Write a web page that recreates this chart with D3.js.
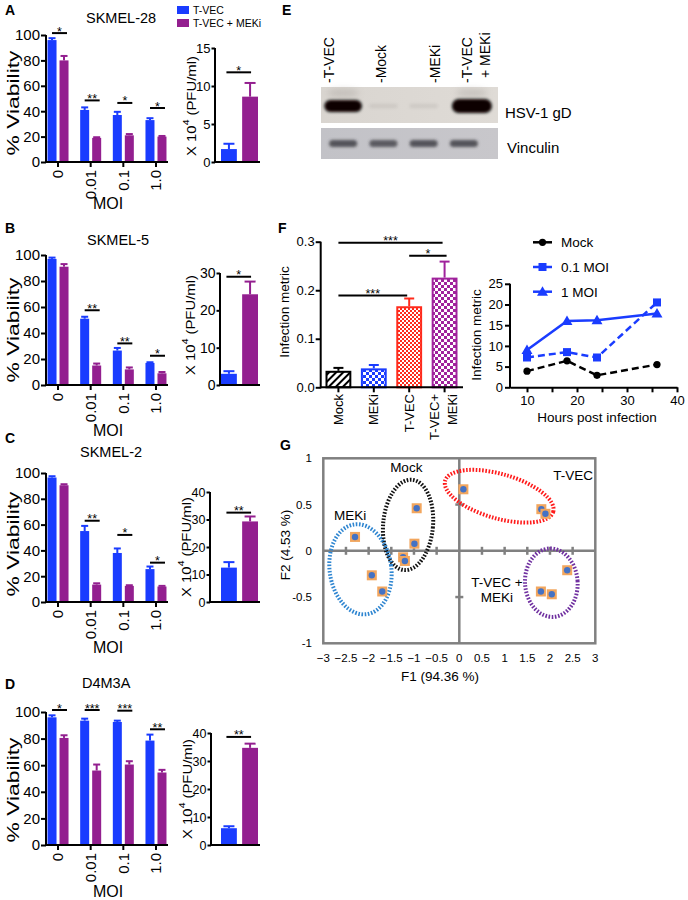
<!DOCTYPE html>
<html><head><meta charset="utf-8">
<script src="https://cdn.jsdelivr.net/npm/d3@7"></script>
<style>
html,body{margin:0;padding:0;background:#fff;}
svg{display:block;}
</style></head><body>
<svg id="fig" width="688" height="900"></svg>
<script>
// ================= DATA =================
const moiLevels = ["0", "0.01", "0.1", "1.0"];
const seriesNames = ["T-VEC", "T-VEC + MEKi"];

// Panel A  SKMEL-28
const viabA_tvec = [96, 41, 37, 33];
const viabA_tvecErr = [1.5, 2, 2.5, 1.5];
const viabA_combo = [80, 19, 21, 20];
const viabA_comboErr = [3.5, 0.5, 1, 0.5];
const sigA = ["*", "**", "*", "*"];
const sigLevelA = [101.5, 48.5, 46.5, 42.5];
const pfuA = [1.7, 8.6];
const pfuAErr = [0.7, 1.8];
const pfuSigA = "*", pfuSigLevelA = 11.8;

// Panel B  SKMEL-5
const viabB_tvec = [97, 51, 26.5, 17];
const viabB_tvecErr = [1, 1.5, 2, 0.5];
const viabB_combo = [91, 15, 12, 9];
const viabB_comboErr = [2, 1.5, 1.5, 1];
const sigB = ["", "**", "**", "*"];
const sigLevelB = [0, 57.5, 32, 22.5];
const pfuB = [3.0, 24.3];
const pfuBErr = [0.7, 3.4];
const pfuSigB = "*", pfuSigLevelB = 29;

// Panel C  SKMEL-2
const viabC_tvec = [96.5, 55, 38, 25.5];
const viabC_tvecErr = [1, 4, 3.5, 2];
const viabC_combo = [90.5, 13.5, 12.5, 12];
const viabC_comboErr = [0.8, 1, 0.5, 0.5];
const sigC = ["", "**", "*", "*"];
const sigLevelC = [0, 63, 52, 30.5];
const pfuC = [12.5, 29.3];
const pfuCErr = [2, 1.8];
const pfuSigC = "**", pfuSigLevelC = 32.5;

// Panel D  D4M3A
const viabD_tvec = [96, 93.5, 92.5, 78.5];
const viabD_tvecErr = [1.5, 1.5, 1, 4.5];
const viabD_combo = [80.5, 56, 60.5, 54.5];
const viabD_comboErr = [2, 4.5, 2.5, 2];
const sigD = ["*", "***", "***", "**"];
const sigLevelD = [101.5, 101.5, 101, 87];
const pfuD = [6, 34.7];
const pfuDErr = [0.7, 1.5];
const pfuSigD = "**", pfuSigLevelD = 38.6;

// Panel E  western blot
const blotLanes = ["-T-VEC", "-Mock", "-MEKi", "-T-VEC"];
const blotLanes2 = ["", "", "", "+ MEKi"];
const gdSignal = [0.8, 0.05, 0.05, 1.0];
const vinculinSignal = [0.75, 0.7, 0.75, 0.75];

// Panel F  infection metric bars
const infGroups = ["Mock", "MEKi", "T-VEC", "T-VEC+MEKi"];
const infMean = [0.034, 0.039, 0.167, 0.226];
const infErr = [0.006, 0.007, 0.016, 0.033];
const infSigFrom = ["Mock", "T-VEC", "Mock"];
const infSigTo = ["T-VEC+MEKi", "T-VEC+MEKi", "T-VEC"];
const infSigLabel = ["***", "*", "***"];
const infSigLevel = [0.298, 0.271, 0.189];

// Panel F  kinetics
const hours = [10, 18, 24, 36];
const kinSeries = ["Mock", "0.1 MOI", "1 MOI"];
const kinMock = [3.9, 6.4, 2.9, 5.5];
const kinMoi01 = [7.2, 8.5, 7.2, 20.5];
const kinMoi1 = [9.0, 16.0, 16.2, 17.8];

// Panel G  PCA
const pcaF1 = [0.09, 1.81, 1.9, -0.94, -0.99, -1.24, -1.2, -2.3, -1.93, -1.70, 2.38, 1.8, 2.04];
const pcaF2 = [0.665, 0.45, 0.40, 0.46, 0.077, -0.07, -0.11, 0.15, -0.265, -0.44, -0.21, -0.44, -0.47];
const clusterNames = ["Mock", "MEKi", "T-VEC", "T-VEC +|MEKi"];
const clusterCx = [-1.13, -2.18, 0.88, 2.03];
const clusterCy = [0.28, -0.2, 0.59, -0.345];
const clusterRx = [0.55, 0.68, 1.24, 0.58];
const clusterRy = [0.49, 0.49, 0.24, 0.37];
const clusterAngle = [5, -8, 16, -4];
const clusterLabelX = [-1.17, -2.41, 2.51, 0.83];
const clusterLabelY = [0.85, 0.33, 0.77, -0.39];

// ================= DRAWING =================
const FONT = '"Liberation Sans", Arial, Helvetica, sans-serif';
const BLUE = "#1a3cff", PURPLE = "#931f8f";
const svg = d3.select("#fig").attr("font-family", FONT);
const defs = svg.append("defs");

function letter(ch, x, y) {
  svg.append("text").attr("x", x).attr("y", y).attr("font-size", 14)
    .attr("font-weight", "bold").attr("fill", "#000").text(ch);
}
function styleAxis(sel, size) {
  sel.attr("font-family", FONT);
  sel.select(".domain").attr("stroke", "#000").attr("stroke-width", 2);
  sel.selectAll(".tick line").attr("stroke", "#000").attr("stroke-width", 2);
  sel.selectAll(".tick text").attr("font-size", size).attr("fill", "#000");
}
function rotLabel(parent, build, cx, cy, size, targetLen) {
  const t = parent.append("text").attr("font-size", size).attr("text-anchor", "middle")
    .attr("dominant-baseline", "central").attr("fill", "#000");
  build(t);
  const w = t.node().getBBox().width;
  const s = targetLen ? targetLen / w : 1;
  t.attr("transform", `translate(${cx},${cy}) rotate(-90) scale(${s},1)`);
  return t;
}
function errBar(g, x, y0, y1, cap, color) {
  g.append("line").attr("x1", x).attr("x2", x).attr("y1", y0).attr("y2", y1)
    .attr("stroke", color).attr("stroke-width", 2);
  g.append("line").attr("x1", x - cap / 2).attr("x2", x + cap / 2).attr("y1", y1).attr("y2", y1)
    .attr("stroke", color).attr("stroke-width", 2);
}
function sigMark(g, x1, x2, y, label, size) {
  g.append("line").attr("x1", x1).attr("x2", x2).attr("y1", y).attr("y2", y)
    .attr("stroke", "#000").attr("stroke-width", 2);
  g.append("text").attr("x", (x1 + x2) / 2).attr("y", y + 2.5).attr("text-anchor", "middle")
    .attr("font-size", size).attr("fill", "#000").text(label);
}

const panels = [
  {letter: "A", letterY: 15, title: "SKMEL-28", titleX: 86, titleY: 23, top: 35, base: 162,
   smallMax: 15, smallTicks: [0, 5, 10, 15], smallTop: 48, smallAxisX: 215, smallFont: 13, pfuX: 191, viabY: 103, pfuY: 106, moiY: 209,
   tvec: viabA_tvec, tvecErr: viabA_tvecErr, combo: viabA_combo, comboErr: viabA_comboErr,
   sig: sigA, sigLevel: sigLevelA, pfu: pfuA, pfuErr: pfuAErr, pfuSig: pfuSigA, pfuSigLevel: pfuSigLevelA},
  {letter: "B", letterY: 233, title: "SKMEL-5", titleX: 87, titleY: 245, top: 255, base: 385,
   smallMax: 30, smallTicks: [0, 10, 20, 30], smallTop: 273, smallAxisX: 220, smallFont: 14, pfuX: 190, viabY: 330, pfuY: 325, moiY: 436,
   tvec: viabB_tvec, tvecErr: viabB_tvecErr, combo: viabB_combo, comboErr: viabB_comboErr,
   sig: sigB, sigLevel: sigLevelB, pfu: pfuB, pfuErr: pfuBErr, pfuSig: pfuSigB, pfuSigLevel: pfuSigLevelB},
  {letter: "C", letterY: 443, title: "SKMEL-2", titleX: 80, titleY: 457, top: 473, base: 602,
   smallMax: 40, smallTicks: [0, 10, 20, 30, 40], smallTop: 492, smallAxisX: 210, smallFont: 12.5, pfuX: 186, viabY: 544, pfuY: 547, moiY: 653,
   tvec: viabC_tvec, tvecErr: viabC_tvecErr, combo: viabC_combo, comboErr: viabC_comboErr,
   sig: sigC, sigLevel: sigLevelC, pfu: pfuC, pfuErr: pfuCErr, pfuSig: pfuSigC, pfuSigLevel: pfuSigLevelC},
  {letter: "D", letterY: 689, title: "D4M3A", titleX: 82, titleY: 688, top: 712, base: 845,
   smallMax: 40, smallTicks: [0, 10, 20, 30, 40], smallTop: 733, smallAxisX: 211, smallFont: 12.5, pfuX: 187, viabY: 790, pfuY: 789, moiY: 897,
   tvec: viabD_tvec, tvecErr: viabD_tvecErr, combo: viabD_combo, comboErr: viabD_comboErr,
   sig: sigD, sigLevel: sigLevelD, pfu: pfuD, pfuErr: pfuDErr, pfuSig: pfuSigD, pfuSigLevel: pfuSigLevelD}
];

const colorOf = d3.scaleOrdinal().domain(seriesNames).range([BLUE, PURPLE]);

panels.forEach(p => {
  const g = svg.append("g");
  letter(p.letter, 5, p.letterY);
  g.append("text").attr("x", p.titleX).attr("y", p.titleY).attr("font-size", 14.5).attr("fill", "#000").text(p.title);

  // main viability chart
  const y = d3.scaleLinear().domain([0, 100]).range([p.base, p.top]);
  const x = d3.scaleBand().domain(moiLevels).range([41.7, 172.3]);
  const xs = d3.scaleBand().domain(seriesNames).range([-10.5, 10.5]).paddingInner(0.25);
  const rows = moiLevels.map((m, i) => ({m, i, vals: [
    {s: seriesNames[0], v: p.tvec[i], e: p.tvecErr[i]},
    {s: seriesNames[1], v: p.combo[i], e: p.comboErr[i]}]}));
  rows.forEach(r => {
    const cx = x(r.m) + x.bandwidth() / 2;
    r.vals.forEach(d => {
      g.append("rect").attr("x", cx + xs(d.s)).attr("width", xs.bandwidth())
        .attr("y", y(d.v)).attr("height", y(0) - y(d.v)).attr("fill", colorOf(d.s));
      errBar(g, cx + xs(d.s) + xs.bandwidth() / 2, y(d.v), y(d.v + d.e), 7, colorOf(d.s));
    });
    if (p.sig[r.i]) sigMark(g, cx - 6, cx + 9, y(p.sigLevel[r.i]), p.sig[r.i], 12.5);
  });
  const ya = g.append("g").attr("transform", "translate(46,0)")
    .call(d3.axisLeft(y).tickValues([0, 20, 40, 60, 80, 100]).tickSize(5).tickPadding(1).tickSizeOuter(0));
  styleAxis(ya, 15);
  ya.select(".domain").attr("d", `M0,${p.base + 1}V${p.top}`);
  const xa = g.append("g").attr("transform", `translate(0,${p.base})`)
    .call(d3.axisBottom(x).tickSize(5).tickSizeOuter(0));
  styleAxis(xa, 15);
  xa.select(".domain").attr("d", "M45,0H168");
  xa.selectAll(".tick text").attr("transform", "rotate(-90)").attr("x", -8).attr("y", 0)
    .attr("dy", "0.35em").attr("text-anchor", "end");
  g.append("text").attr("x", 108).attr("y", p.moiY).attr("text-anchor", "middle")
    .attr("font-size", 16).attr("fill", "#000").text("MOI");
  rotLabel(g, t => t.text("% Viability"), 13, p.viabY, 16, 105);

  // small PFU chart
  const ys = d3.scaleLinear().domain([0, p.smallMax]).range([p.base, p.smallTop]);
  const xb = d3.scaleBand().domain(seriesNames).range([221, 258]).paddingInner(0.25);
  seriesNames.forEach((s, i) => {
    g.append("rect").attr("x", xb(s)).attr("width", xb.bandwidth()).attr("y", ys(p.pfu[i]))
      .attr("height", ys(0) - ys(p.pfu[i])).attr("fill", colorOf(s));
    errBar(g, xb(s) + xb.bandwidth() / 2, ys(p.pfu[i]), ys(p.pfu[i] + p.pfuErr[i]), 11, colorOf(s));
  });
  sigMark(g, xb(seriesNames[0]) + xb.bandwidth() / 2 - 2.5, xb(seriesNames[1]) + xb.bandwidth() / 2 + 1,
    ys(p.pfuSigLevel), p.pfuSig, 12.5);
  const ysa = g.append("g").attr("transform", `translate(${p.smallAxisX},0)`)
    .call(d3.axisLeft(ys).tickValues(p.smallTicks).tickSize(3.5).tickPadding(1).tickSizeOuter(0));
  styleAxis(ysa, p.smallFont);
  ysa.select(".domain").attr("d", `M0,${p.base + 1}V${p.smallTop}`);
  g.append("line").attr("x1", p.smallAxisX - 1).attr("x2", 260).attr("y1", p.base).attr("y2", p.base)
    .attr("stroke", "#000").attr("stroke-width", 2);
  rotLabel(g, t => {
    t.append("tspan").text("X 10");
    t.append("tspan").attr("font-size", 9).attr("dy", -6).text("4");
    t.append("tspan").attr("dy", 6).text(" (PFU/ml)");
  }, p.pfuX, p.pfuY, 13, 100);
});

// legend (top)
seriesNames.forEach((s, i) => {
  svg.append("rect").attr("x", 177).attr("y", 6 + i * 13).attr("width", 12).attr("height", 8).attr("fill", colorOf(s));
  svg.append("text").attr("x", 193).attr("y", 13.5 + i * 13).attr("font-size", 10.5).attr("fill", "#000").text(s);
});

// ================= E: western blot =================
letter("E", 282, 15);
{
  const g = svg.append("g");
  const lane = d3.scaleBand().domain(d3.range(4)).range([323, 484]);
  const lc = i => lane(i) + lane.bandwidth() / 2;
  const f1 = defs.append("filter").attr("id", "blurBand").attr("x", "-50%").attr("y", "-80%").attr("width", "200%").attr("height", "260%");
  f1.append("feGaussianBlur").attr("stdDeviation", 1.6);
  const f2 = defs.append("filter").attr("id", "blurSoft").attr("x", "-50%").attr("y", "-100%").attr("width", "200%").attr("height", "300%");
  f2.append("feGaussianBlur").attr("stdDeviation", 3);
  const gr1 = defs.append("linearGradient").attr("id", "blotBg1").attr("x1", 0).attr("x2", 1);
  gr1.append("stop").attr("offset", 0).attr("stop-color", "#d9d5d0");
  gr1.append("stop").attr("offset", 1).attr("stop-color", "#dfdbd6");
  const gr2 = defs.append("linearGradient").attr("id", "blotBg2").attr("x1", 0).attr("x2", 1);
  gr2.append("stop").attr("offset", 0).attr("stop-color", "#c2c2c7");
  gr2.append("stop").attr("offset", 1).attr("stop-color", "#c8c7cb");
  g.append("rect").attr("x", 321).attr("y", 87).attr("width", 177).attr("height", 36).attr("fill", "url(#blotBg1)");
  g.append("rect").attr("x", 321).attr("y", 128).attr("width", 177).attr("height", 31).attr("fill", "url(#blotBg2)");
  const gdShift = [0, 0, 0, 8];
  gdSignal.forEach((s, i) => {
    if (s > 0.3) {
      g.append("ellipse").attr("cx", lc(i) + gdShift[i]).attr("cy", 93).attr("rx", 16).attr("ry", 4)
        .attr("fill", "#9a9490").attr("opacity", 0.35).attr("filter", "url(#blurSoft)");
    }
    g.append("rect").attr("x", lc(i) + gdShift[i] - (14 + 6 * s)).attr("width", 2 * (14 + 6 * s))
      .attr("y", 106 - (2 + 5 * s)).attr("height", 2 * (2 + 5 * s)).attr("rx", 2 + 5 * s)
      .attr("fill", s > 0.3 ? "#070505" : "#8f8a86").attr("opacity", s > 0.3 ? 1 : 0.18)
      .attr("filter", "url(#blurBand)");
  });
  vinculinSignal.forEach((s, i) => {
    g.append("rect").attr("x", lc(i) - 14).attr("width", 28).attr("y", 140).attr("height", 7).attr("rx", 3.5)
      .attr("fill", "#2e2e34").attr("opacity", s).attr("filter", "url(#blurBand)");
  });
  const labX = [334, 386, 440, 472];
  blotLanes.forEach((t, i) => {
    g.append("text").attr("transform", `translate(${labX[i]},83) rotate(-90)`).attr("font-size", 14)
      .attr("fill", "#000").text(t);
    if (blotLanes2[i]) g.append("text").attr("transform", `translate(${labX[i] + 18},78) rotate(-90)`)
      .attr("font-size", 14).attr("fill", "#000").text(blotLanes2[i]);
  });
  g.append("text").attr("x", 505).attr("y", 118).attr("font-size", 15).attr("fill", "#000").text("HSV-1 gD");
  g.append("text").attr("x", 507).attr("y", 153).attr("font-size", 15).attr("fill", "#000").text("Vinculin");
}

// ================= F: bars =================
letter("F", 278, 233);
{
  const g = svg.append("g");
  const infColors = ["#000", BLUE, "#ff2b1c", "#a0229c"];
  const h = defs.append("pattern").attr("id", "hatch").attr("patternUnits", "userSpaceOnUse")
    .attr("width", 5).attr("height", 5).attr("patternTransform", "rotate(45)");
  h.append("rect").attr("width", 5).attr("height", 5).attr("fill", "#fff");
  h.append("rect").attr("width", 2).attr("height", 5).attr("fill", "#000");
  function checker(id, color, c) {
    const p = defs.append("pattern").attr("id", id).attr("patternUnits", "userSpaceOnUse").attr("width", 2 * c).attr("height", 2 * c);
    p.append("rect").attr("width", 2 * c).attr("height", 2 * c).attr("fill", "#fff");
    p.append("rect").attr("width", c).attr("height", c).attr("fill", color);
    p.append("rect").attr("x", c).attr("y", c).attr("width", c).attr("height", c).attr("fill", color);
  }
  checker("chkBlue", BLUE, 3);
  checker("chkRed", "#ff2b1c", 2);
  checker("chkPurple", "#a0229c", 3);
  const fills = ["url(#hatch)", "url(#chkBlue)", "url(#chkRed)", "url(#chkPurple)"];
  const y = d3.scaleLinear().domain([0, 0.3]).range([387.3, 241.7]);
  const x = d3.scaleBand().domain(infGroups).range([325.5, 457.5]).paddingInner(0.27);
  const cx = k => x(k) + x.bandwidth() / 2;
  infGroups.forEach((k, i) => {
    g.append("rect").attr("x", x(k) + 1).attr("width", x.bandwidth() - 2).attr("y", y(infMean[i]) + 1)
      .attr("height", y(0) - y(infMean[i]) - 1).attr("fill", fills[i]).attr("stroke", infColors[i]).attr("stroke-width", 2);
    errBar(g, cx(k), y(infMean[i]), y(infMean[i] + infErr[i]), 10, infColors[i]);
  });
  infSigLabel.forEach((l, i) => sigMark(g, cx(infSigFrom[i]), cx(infSigTo[i]) + (i === 1 ? 2 : -2), y(infSigLevel[i]), l, 12.5));
  const ya = g.append("g").attr("transform", "translate(320.7,0)")
    .call(d3.axisLeft(y).tickValues([0, 0.1, 0.2, 0.3]).tickFormat(d3.format(".1f")).tickSize(5).tickPadding(1).tickSizeOuter(0));
  styleAxis(ya, 13);
  ya.select(".domain").attr("d", "M0,388.3V241.7");
  const xa = g.append("g").attr("transform", "translate(0,387.3)")
    .call(d3.axisBottom(x).tickSize(5).tickSizeOuter(0).tickFormat(""));
  styleAxis(xa, 13);
  xa.select(".domain").attr("d", "M320,0H463");
  infGroups.forEach((k, i) => {
    if (k === "T-VEC+MEKi") {
      g.append("text").attr("transform", `translate(${cx(k) - 10},394) rotate(-90)`).attr("text-anchor", "end")
        .attr("dominant-baseline", "central").attr("font-size", 13).attr("fill", "#000").text("T-VEC+");
      g.append("text").attr("transform", `translate(${cx(k) + 8},394) rotate(-90)`).attr("text-anchor", "end")
        .attr("dominant-baseline", "central").attr("font-size", 13).attr("fill", "#000").text("MEKi");
    } else {
      g.append("text").attr("transform", `translate(${cx(k)},394) rotate(-90)`).attr("text-anchor", "end")
        .attr("dominant-baseline", "central").attr("font-size", 13).attr("fill", "#000").text(k);
    }
  });
  rotLabel(g, t => t.text("Infection metric"), 285, 312, 13.5, 92);
}

// ================= F: kinetics =================
{
  const g = svg.append("g");
  const x = d3.scaleLinear().domain([6.6, 40]).range([510, 677]);
  const y = d3.scaleLinear().domain([0, 25]).range([387.3, 283.8]);
  const kinData = [kinMock, kinMoi01, kinMoi1];
  const kinColor = ["#000", BLUE, BLUE];
  const kinDash = ["7,4", "7,4", null];
  const line = d3.line().x((d, i) => x(hours[i])).y(d => y(d));
  function marker(sel, k, px, py) {
    if (k === 0) sel.append("circle").attr("cx", px).attr("cy", py).attr("r", 3.6).attr("fill", kinColor[k]);
    else if (k === 1) sel.append("rect").attr("x", px - 4).attr("y", py - 4).attr("width", 8).attr("height", 8).attr("fill", kinColor[k]);
    else sel.append("path").attr("d", d3.symbol(d3.symbolTriangle, 52)()).attr("transform", `translate(${px},${py + 0.8})`).attr("fill", kinColor[k]);
  }
  kinData.forEach((vals, k) => {
    g.append("path").attr("d", line(vals)).attr("fill", "none").attr("stroke", kinColor[k])
      .attr("stroke-width", 2.5).attr("stroke-dasharray", kinDash[k]);
    vals.forEach((v, i) => marker(g, k, x(hours[i]), y(v)));
  });
  const ya = g.append("g").attr("transform", "translate(510,0)")
    .call(d3.axisLeft(y).tickValues([0, 5, 10, 15, 20, 25]).tickSize(5).tickPadding(2).tickSizeOuter(0));
  styleAxis(ya, 13);
  ya.select(".domain").attr("d", "M0,388.3V283.8");
  const xa = g.append("g").attr("transform", "translate(0,387.3)")
    .call(d3.axisBottom(x).tickValues([10, 15, 20, 25, 30, 35, 40]).tickFormat(d => d % 10 === 0 ? d : "").tickSize(5).tickPadding(3).tickSizeOuter(0));
  styleAxis(xa, 13);
  g.append("text").attr("x", 597).attr("y", 422).attr("text-anchor", "middle").attr("font-size", 13.5).attr("fill", "#000").text("Hours post infection");
  rotLabel(g, t => t.text("Infection metric"), 477, 335, 13.5, 92);
  kinSeries.forEach((s, k) => {
    const ly = 242.3 + k * 24.7;
    g.append("line").attr("x1", 533).attr("x2", 552).attr("y1", ly).attr("y2", ly).attr("stroke", kinColor[k]).attr("stroke-width", 2.5);
    marker(g, k, 542.5, ly);
    g.append("text").attr("x", 561).attr("y", ly + 5).attr("font-size", 13.5).attr("fill", "#000").text(s);
  });
}

// ================= G: PCA =================
letter("G", 280, 450);
{
  const g = svg.append("g");
  const GRAY = "#808080";
  const x = d3.scaleLinear().domain([-3, 3]).range([323.3, 595.3]);
  const y = d3.scaleLinear().domain([-1, 1]).range([643.3, 458.3]);
  g.append("rect").attr("x", x(-3)).attr("y", y(1)).attr("width", x(3) - x(-3)).attr("height", y(-1) - y(1))
    .attr("fill", "none").attr("stroke", GRAY).attr("stroke-width", 2.5);
  g.append("line").attr("x1", x(-3)).attr("x2", x(3)).attr("y1", y(0)).attr("y2", y(0)).attr("stroke", GRAY).attr("stroke-width", 2.5);
  g.append("line").attr("x1", x(0)).attr("x2", x(0)).attr("y1", y(1)).attr("y2", y(-1)).attr("stroke", GRAY).attr("stroke-width", 2.5);
  const xt = d3.range(-3, 3.01, 0.5);
  xt.filter(v => Math.abs(v) > 0.01 && Math.abs(v) < 2.99).forEach(v => {
    g.append("line").attr("x1", x(v)).attr("x2", x(v)).attr("y1", y(0) - 4).attr("y2", y(0) + 4).attr("stroke", GRAY).attr("stroke-width", 2.5);
  });
  [-0.5, 0.5].forEach(v => {
    g.append("line").attr("x1", x(0) - 4).attr("x2", x(0) + 4).attr("y1", y(v)).attr("y2", y(v)).attr("stroke", GRAY).attr("stroke-width", 2.5);
  });
  xt.forEach(v => {
    g.append("text").attr("x", x(v)).attr("y", 662).attr("text-anchor", "middle").attr("font-size", 11.5)
      .attr("fill", "#000").text(d3.format("")(Math.round(v * 10) / 10));
  });
  [-1, -0.5, 0, 0.5, 1].forEach(v => {
    g.append("text").attr("x", 312).attr("y", y(v)).attr("dy", "0.35em").attr("text-anchor", "end")
      .attr("font-size", 11.5).attr("fill", "#000").text(v);
  });
  g.append("text").attr("x", 440).attr("y", 681).attr("text-anchor", "middle").attr("font-size", 13.5).attr("fill", "#000").text("F1 (94.36 %)");
  rotLabel(g, t => t.text("F2 (4.53 %)"), 285, 545, 13.5, 0);

  const cColors = ["#111", "#2f86d1", "#ff1a1a", "#7030a0"];
  clusterNames.forEach((n, i) => {
    g.append("ellipse").attr("cx", 0).attr("cy", 0)
      .attr("rx", x(clusterRx[i]) - x(0)).attr("ry", y(0) - y(clusterRy[i]))
      .attr("transform", `translate(${x(clusterCx[i])},${y(clusterCy[i])}) rotate(${clusterAngle[i]})`)
      .attr("fill", "none").attr("stroke", cColors[i]).attr("stroke-width", 4).attr("stroke-dasharray", "1.6,1.6");
  });
  pcaF1.forEach((v, i) => {
    g.append("rect").attr("x", x(v) - 5).attr("y", y(pcaF2[i]) - 5).attr("width", 10).attr("height", 10).attr("fill", "#f2a65e");
    g.append("circle").attr("cx", x(v)).attr("cy", y(pcaF2[i])).attr("r", 3.2).attr("fill", "#4472c4");
  });
  clusterNames.forEach((n, i) => {
    const parts = n.split("|");
    parts.forEach((p, j) => {
      g.append("text").attr("x", x(clusterLabelX[i])).attr("y", y(clusterLabelY[i]) + j * 15)
        .attr("text-anchor", "middle").attr("font-size", 13.5).attr("fill", "#000").text(p);
    });
  });
}
</script>
</body></html>
